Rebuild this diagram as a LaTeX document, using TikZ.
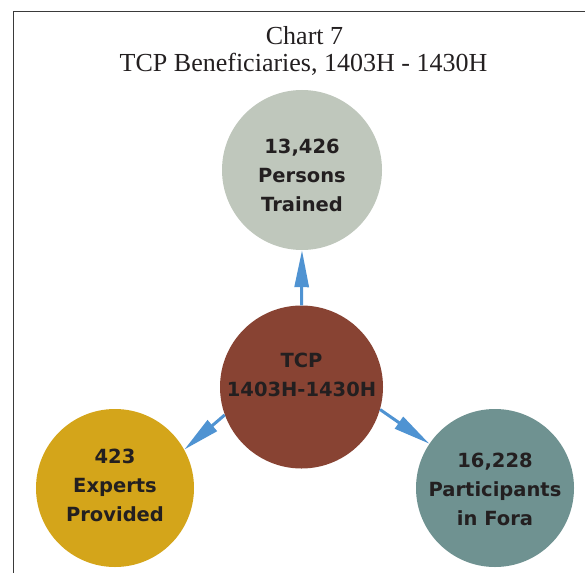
\documentclass[tikz,border=0pt]{standalone}
\usepackage{fontspec}
\setmainfont{Liberation Serif}
\newfontfamily\circfont{DejaVu Sans}
\usetikzlibrary{arrows.meta}
\definecolor{topc}{HTML}{BFC7BC}
\definecolor{midc}{HTML}{884333}
\definecolor{leftc}{HTML}{D4A51A}
\definecolor{rightc}{HTML}{6F9291}
\definecolor{arrowc}{HTML}{4F93D2}
\definecolor{txtc}{HTML}{231F20}
\definecolor{framec}{HTML}{3A3A3A}
\tikzset{
  bubble/.style={circle, draw=none, inner sep=0pt},
  bubtext/.style={align=center, inner sep=0pt, text=txtc,
    font=\circfont\bfseries\fontsize{19.5bp}{29bp}\selectfont},
  titletext/.style={anchor=base, inner sep=0pt, text=txtc,
    font=\fontsize{26bp}{30bp}\selectfont},
  link/.style={draw=arrowc, line width=3bp,
    -{Triangle[length=37bp,width=14bp]}},
  framel/.style={draw=framec, line width=0.9bp}
}
\begin{document}
\begin{tikzpicture}[x=1bp,y=-1bp]
\useasboundingbox (0,0) rectangle (585,573);
% frame
\coordinate (fb) at (13.3,574);
\coordinate (ftl) at (13.3,11);
\coordinate (fr) at (586,11);
\draw[framel] (fb) -- (ftl) -- (fr);
% title
\node[titletext] (t1) at (304.5,45) {Chart 7};
\node[titletext] (t2) at (303.5,72) {TCP Beneficiaries, 1403H - 1430H};
% circles
\node[bubble, fill=topc, minimum size=160bp] (top) at (302,170) {};
\node[bubble, fill=midc, minimum size=163bp] (mid) at (301.5,387) {};
\node[bubble, fill=leftc, minimum size=158bp] (left) at (115,488) {};
\node[bubble, fill=rightc, minimum size=158bp] (right) at (495,488) {};
% texts
\node[bubtext] (toptx) at (302,175) {13,426\\Persons\\Trained};
\node[bubtext] (midtx) at (301.5,375) {TCP\\1403H-1430H};
\node[bubtext] (lefttx) at (115,485) {423\\Experts\\Provided};
\node[bubtext] (righttx) at (495,489) {16,228\\Participants\\in Fora};
% arrows
\draw[link] (mid.90) -- (top.270);
\draw[link] (mid.200.2) -- (left.29.9);
\draw[link] (mid.-16.6) -- (right.146.9);
\end{tikzpicture}
\end{document}
